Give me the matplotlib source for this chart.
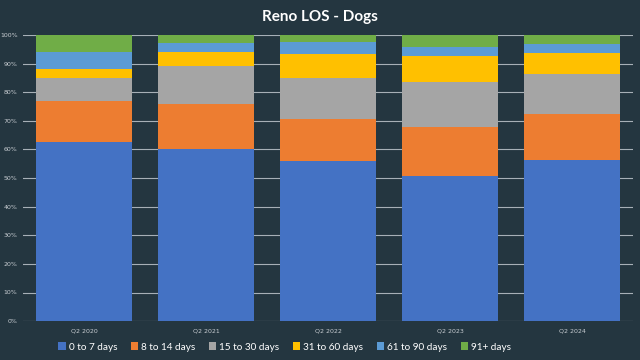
import matplotlib
matplotlib.use("Agg")
import matplotlib.pyplot as plt
import numpy as np

# Data (share of dogs by length of stay, %)
quarters = ["Q2 2020", "Q2 2021", "Q2 2022", "Q2 2023", "Q2 2024"]
categories = ["0 to 7 days", "8 to 14 days", "15 to 30 days",
              "31 to 60 days", "61 to 90 days", "91+ days"]
days_0_7 = [62.6, 60.1, 56.0, 50.7, 56.3]
days_8_14 = [14.3, 15.8, 14.7, 17.1, 16.1]
days_15_30 = [8.0, 13.3, 14.4, 15.7, 14.0]
days_31_60 = [3.2, 4.9, 8.1, 9.3, 7.4]
days_61_90 = [5.9, 3.2, 4.5, 3.1, 3.1]
days_91_plus = [6.0, 2.7, 2.3, 4.1, 3.1]

colors = ["#4472C4", "#ED7D31", "#A5A5A5", "#FFC000", "#5B9BD5", "#70AD47"]
bg = "#243640"

series = [days_0_7, days_8_14, days_15_30, days_31_60, days_61_90, days_91_plus]

fig = plt.figure(figsize=(6.4, 3.6), dpi=100, facecolor=bg)
ax = fig.add_axes([0.036, 0.108, 0.953, 0.795], facecolor=bg)

x = np.arange(len(quarters))
bottom = np.zeros(len(quarters))
for vals, name, col in zip(series, categories, colors):
    ax.bar(x, vals, width=0.79, bottom=bottom, color=col, label=name, zorder=3)
    bottom += np.array(vals)

ax.set_xlim(-0.5, len(quarters) - 0.5)
ax.set_ylim(0, 100)
ax.set_yticks(range(0, 101, 10))
ax.set_yticklabels([f"{v}%" for v in range(0, 101, 10)])
ax.set_xticks(x)
ax.set_xticklabels(quarters)
ax.grid(axis="y", color="#A7B0B7", linewidth=0.8, zorder=0)
ax.tick_params(axis="both", length=0, colors="#C8CDD2", labelsize=4.5)
ax.tick_params(axis="y", pad=4)
ax.tick_params(axis="x", pad=5)
for s in ax.spines.values():
    s.set_visible(False)

fig.text(0.5, 0.953, "Reno LOS - Dogs", ha="center", va="center",
         color="white", fontsize=11, fontweight="bold", family="Lato")

leg = fig.legend(loc="center", bbox_to_anchor=(0.445, 0.036), ncol=6,
                 frameon=False, handlelength=0.75, handleheight=0.75,
                 handletextpad=0.3, columnspacing=1.35,
                 prop={"family": "Lato", "size": 7.2})
for t in leg.get_texts():
    t.set_color("white")

fig.savefig("out.png", dpi=100, facecolor=bg)
